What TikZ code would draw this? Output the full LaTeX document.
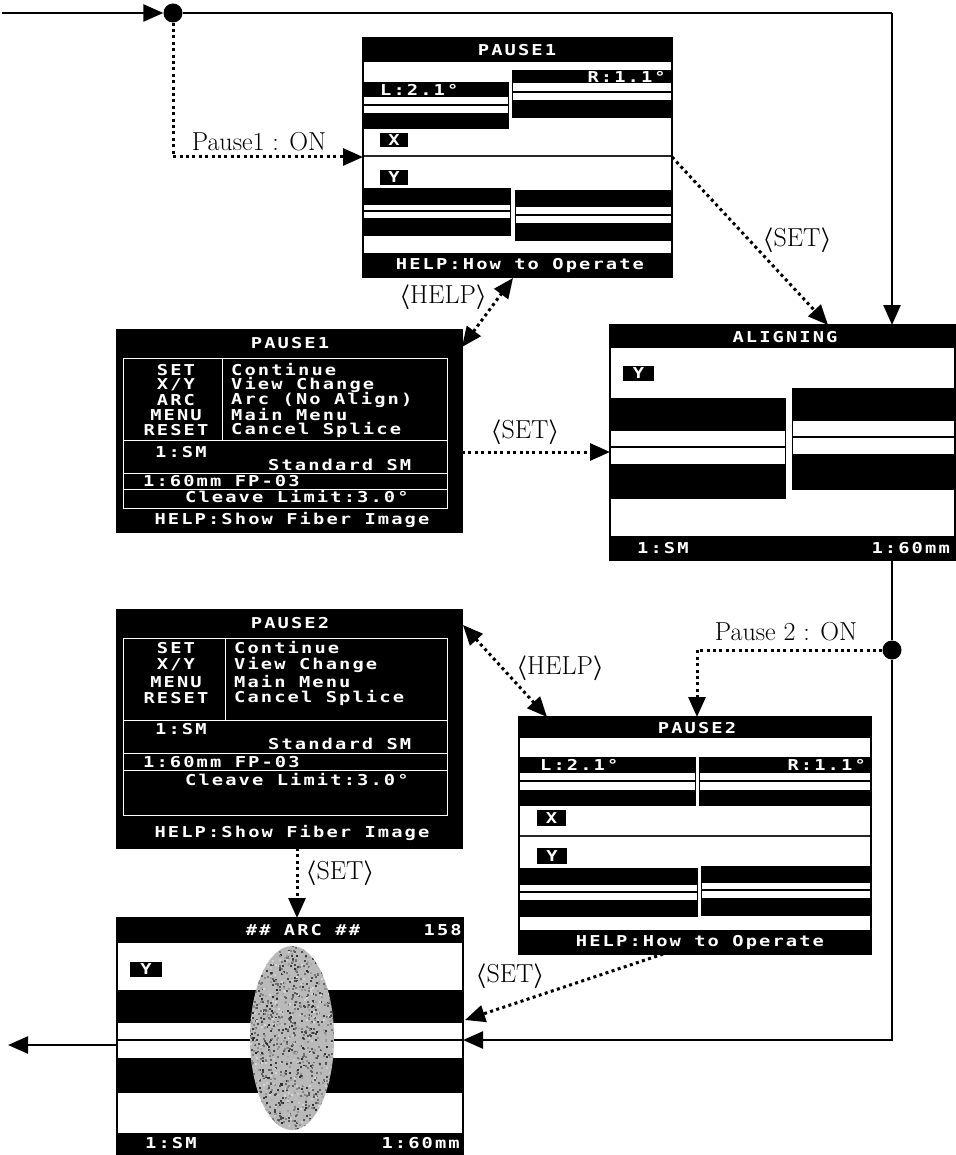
\documentclass[tikz,border=0pt]{standalone}
\usepackage{fontspec}
\usetikzlibrary{arrows.meta,calc}
\newfontfamily\lcdfont{DejaVu Sans Mono}[FakeStretch=1.25, LetterSpace=14]
\newfontfamily\lcdplain{DejaVu Sans Mono}[FakeStretch=1.25]
\newcommand\lcd{\lcdfont\bfseries\fontsize{15}{17}\selectfont}
\newcommand\lcdone{\lcdplain\bfseries\fontsize{15}{17}\selectfont}
\newcommand\lab{\fontsize{26}{29}\selectfont}
\newcommand\la{{\boldmath$\langle$}}
\newcommand\ra{{\boldmath$\rangle$}}
\begin{document}
\begin{tikzpicture}[x=1pt,y=-1pt,
  scrw/.style={draw=black, line width=1.2pt, fill=white, inner sep=0pt, outer sep=0pt, anchor=north west},
  scrb/.style={draw=black, line width=1.2pt, fill=black, inner sep=0pt, outer sep=0pt, anchor=north west},
  t/.style={text=white, font=\lcd, inner sep=0pt},
  t1/.style={text=white, font=\lcdone, inner sep=0pt},
  wl/.style={draw=white, line width=1pt},
  fl/.style={line width=1.2pt},
  flowline/.style={line width=2.4pt},
  flow/.style={line width=2.4pt, -{Triangle[length=20pt,width=17pt]}},
  dots/.style={line width=3pt, dash pattern=on 3pt off 3.4pt},
  dotarrow/.style={dots, -{Triangle[length=20pt,width=17pt]}},
  dotboth/.style={dots, {Triangle[length=20pt,width=17pt]}-{Triangle[length=20pt,width=17pt]}},
  lbl/.style={font=\lab, inner sep=0pt},
  dot/.style={circle, fill=black, minimum size=19pt, inner sep=0pt}
]
\useasboundingbox (0,0) rectangle (955,1155);

% ================= Screen A : PAUSE1 (fiber view)
\node[scrw, minimum width=309pt, minimum height=239pt] (A) at (363,38) {};
\fill (363,38) rectangle (672,62);
\node[t] (A1) at (517,50) {PAUSE1};
\fill (363,82) rectangle (508,97);
\node[t, anchor=west] (A2) at (380,89.5) {L:2.1°};
\draw[fl] (363,105) -- (508,105);
\fill (363,113) rectangle (508,128);
\draw[line width=0.8pt] (363,82) rectangle (508,128);
\fill (512,70) rectangle (672,83);
\node[t, anchor=east] (A3) at (666,76.5) {R:1.1°};
\draw[fl] (512,92) -- (672,92);
\fill (512,100) rectangle (672,117);
\draw[line width=0.8pt] (512,70) rectangle (672,117);
\fill (380,133) rectangle (408,147);
\node[t1] (A4) at (394,140) {X};
\draw[line width=2.5pt, black!85] (363,156) -- (672,156);
\fill (380,170) rectangle (408,185);
\node[t1] (A5) at (394,177.5) {Y};
\fill (363,188) rectangle (510,205);
\draw[fl] (363,211) -- (510,211);
\fill (363,218) rectangle (510,235);
\draw[line width=0.8pt] (363,188) rectangle (510,235);
\fill (515,190) rectangle (672,207);
\draw[fl] (515,215) -- (672,215);
\fill (515,223) rectangle (672,240);
\draw[line width=0.8pt] (515,190) rectangle (672,240);
\fill (363,253) rectangle (672,277);
\node[t] (A6) at (520,265) {HELP:How to Operate};
\draw[line width=1.2pt] (A.north west) rectangle (A.south east);

% ================= Screen B : PAUSE1 help
\node[scrb, minimum width=345pt, minimum height=202pt] (B) at (117,330) {};
\node[t] (B0) at (290,343) {PAUSE1};
\draw[wl] (123,358) rectangle (447,508);
\draw[wl] (222,358) -- (222,440);
\draw[wl] (123,440) -- (447,440);
\draw[wl] (123,473) -- (447,473);
\draw[wl] (123,489) -- (447,489);
\node[t] (B1) at (176,370) {SET};
\node[t] (B2) at (176,385) {X/Y};
\node[t] (B3) at (176,400) {ARC};
\node[t] (B4) at (176,415) {MENU};
\node[t] (B5) at (176,430) {RESET};
\node[t, anchor=west] (B6) at (231,370) {Continue};
\node[t, anchor=west] (B7) at (231,385) {View Change};
\node[t, anchor=west] (B8) at (231,400) {Arc (No Align)};
\node[t, anchor=west] (B9) at (231,415) {Main Menu};
\node[t, anchor=west] (B10) at (231,430) {Cancel Splice};
\node[t, anchor=west] (B11) at (155,452) {1:SM};
\node[t, anchor=west] (B12) at (268,465) {Standard SM};
\node[t, anchor=west] (B13) at (143,481) {1:60mm FP-03};
\node[t, anchor=west] (B14) at (185,497) {Cleave Limit:3.0°};
\node[t] (B15) at (292,520) {HELP:Show Fiber Image};

% ================= Screen C : ALIGNING
\node[scrw, minimum width=345pt, minimum height=235pt] (C) at (610,325) {};
\fill (610,325) rectangle (955,348);
\node[t] (C1) at (785,337) {ALIGNING};
\fill (623,366) rectangle (654,381);
\node[t1] (C2) at (638.5,373.5) {Y};
\fill (610,398) rectangle (785,431);
\draw[fl] (610,447) -- (785,447);
\fill (610,464) rectangle (785,498);
\draw[line width=0.8pt] (610,398) rectangle (785,498);
\fill (792,388) rectangle (955,421);
\draw[fl] (792,437) -- (955,437);
\fill (792,454) rectangle (955,489);
\draw[line width=0.8pt] (792,388) rectangle (955,489);
\fill (610,536) rectangle (955,560);
\node[t, anchor=west] (C3) at (637,548) {1:SM};
\node[t, anchor=east] (C4) at (950,548) {1:60mm};
\draw[line width=1.2pt] (C.north west) rectangle (C.south east);

% ================= Screen D : PAUSE2 help
\node[scrb, minimum width=345pt, minimum height=238pt] (D) at (117,610) {};
\node[t] (D0) at (290,623) {PAUSE2};
\draw[wl] (123,638) rectangle (447,815);
\draw[wl] (225,638) -- (225,720);
\draw[wl] (123,720) -- (447,720);
\draw[wl] (123,753) -- (447,753);
\draw[wl] (123,770) -- (447,770);
\node[t] (D1) at (176,648) {SET};
\node[t] (D2) at (176,665) {X/Y};
\node[t] (D3) at (176,682) {MENU};
\node[t] (D4) at (176,698) {RESET};
\node[t, anchor=west] (D5) at (234,648) {Continue};
\node[t, anchor=west] (D6) at (234,665) {View Change};
\node[t, anchor=west] (D7) at (234,682) {Main Menu};
\node[t, anchor=west] (D8) at (234,698) {Cancel Splice};
\node[t, anchor=west] (D9) at (155,729) {1:SM};
\node[t, anchor=west] (D10) at (268,744) {Standard SM};
\node[t, anchor=west] (D11) at (143,762) {1:60mm FP-03};
\node[t, anchor=west] (D12) at (185,780) {Cleave Limit:3.0°};
\node[t] (D13) at (292,833) {HELP:Show Fiber Image};

% ================= Screen F : PAUSE2 (fiber view)
\node[scrw, minimum width=352pt, minimum height=237pt] (F) at (519,717) {};
\fill (519,717) rectangle (871,738);
\node[t] (F1) at (697,728) {PAUSE2};
\fill (519,757) rectangle (695,773);
\node[t, anchor=west] (F2) at (540,765) {L:2.1°};
\draw[fl] (519,781) -- (695,781);
\fill (519,790) rectangle (695,805);
\draw[line width=0.8pt] (519,757) rectangle (695,805);
\fill (699,757) rectangle (871,773);
\node[t, anchor=east] (F3) at (866,765) {R:1.1°};
\draw[fl] (699,781) -- (871,781);
\fill (699,790) rectangle (871,805);
\draw[line width=0.8pt] (699,757) rectangle (871,805);
\fill (537,810) rectangle (566,826);
\node[t1] (F4) at (551.5,818) {X};
\draw[line width=2pt, black!85] (519,836) -- (871,836);
\fill (537,848) rectangle (567,864);
\node[t1] (F5) at (552,856) {Y};
\fill (519,868) rectangle (697,885);
\draw[fl] (519,892) -- (697,892);
\fill (519,900) rectangle (697,916);
\draw[line width=0.8pt] (519,868) rectangle (697,916);
\fill (701,866) rectangle (871,883);
\draw[fl] (701,890) -- (871,890);
\fill (701,898) rectangle (871,915);
\draw[line width=0.8pt] (701,866) rectangle (871,915);
\fill (519,930) rectangle (871,954);
\node[t] (F6) at (700,942) {HELP:How to Operate};
\draw[line width=1.2pt] (F.north west) rectangle (F.south east);

% ================= Screen E : ARC
\node[scrw, minimum width=346pt, minimum height=236pt] (E) at (117,918) {};
\fill (117,918) rectangle (463,943);
\node[t] (E1) at (303,930) {\#\# ARC \#\#};
\node[t, anchor=east] (E2) at (462,930) {158};
\fill (130,962) rectangle (162,977);
\node[t1] (E3) at (146,969.5) {Y};
\fill (117,990) rectangle (463,1023);
\draw[fl] (117,1040) -- (463,1040);
\fill (117,1058) rectangle (463,1093);
\begin{scope}
  \clip (292,1038) ellipse (42 and 92);
  \fill[gray!55] (248,944) rectangle (336,1132);
  \pgfmathsetseed{7}
  \foreach \i in {1,...,1400}{
    \pgfmathsetmacro\px{248+88*rnd}
    \pgfmathsetmacro\py{944+188*rnd}
    \pgfmathtruncatemacro\g{15+70*rnd}
    \fill[black!\g] (\px,\py) rectangle ++(2,2);
  }
\end{scope}
\fill (117,1133) rectangle (463,1154);
\node[t, anchor=west] (E4) at (145,1143.5) {1:SM};
\node[t, anchor=east] (E5) at (460,1143.5) {1:60mm};
\draw[line width=1.2pt] (E.north west) rectangle (E.south east);

% ================= connection points
\coordinate (in) at (2,13);
\node[dot] (d1) at (173,13) {};
\coordinate (c1) at (892,13);
\coordinate (a1) at (363,157);
\coordinate (a2) at (672,157);
\coordinate (c2) at (828,325);
\coordinate (a3) at (513,278);
\coordinate (b1) at (462,347);
\coordinate (b2) at (462,452);
\coordinate (c3) at (610,452);
\coordinate (c4) at (892,560);
\node[dot] (d2) at (892,650) {};
\coordinate (e1) at (463,1040);
\coordinate (f1) at (697,717);
\coordinate (dd1) at (463,625);
\coordinate (f2) at (547,717);
\coordinate (dd2) at (297,848);
\coordinate (e2) at (297,918);
\coordinate (f3) at (663,954);
\coordinate (e3) at (465,1020);
\coordinate (e4) at (117,1045);
\coordinate (out) at (8,1045);

% ================= connectors
\draw[flow] (in) -- (d1);
\draw[flowline] (d1) -- (c1);
\draw[flow] (c1) -- (c1 |- C.north);
\draw[dotarrow] (d1) |- (a1);
\draw[dotarrow] (a2) -- (c2);
\draw[dotboth] (b1) -- (a3);
\draw[dotarrow] (b2) -- (c3);
\draw[flowline] (c4) -- (d2);
\draw[flow] (d2) |- (e1);
\draw[dotarrow] (d2) -| (f1);
\draw[dotboth] (dd1) -- (f2);
\draw[dotarrow] (dd2) -- (e2);
\draw[dotarrow] (f3) -- (e3);
\draw[flow] (e4) -- (out);

% ================= labels
\node[lbl] (l1) at (259,142) {Pause1 : ON};
\node[lbl] (l2) at (797,240) {\la SET\ra};
\node[lbl] (l3) at (443,297) {\la HELP\ra};
\node[lbl] (l4) at (525,432) {\la SET\ra};
\node[lbl] (l5) at (786,632) {Pause 2 : ON};
\node[lbl] (l6) at (560,668) {\la HELP\ra};
\node[lbl] (l7) at (340,873) {\la SET\ra};
\node[lbl] (l8) at (510,976) {\la SET\ra};
\end{tikzpicture}
\end{document}
